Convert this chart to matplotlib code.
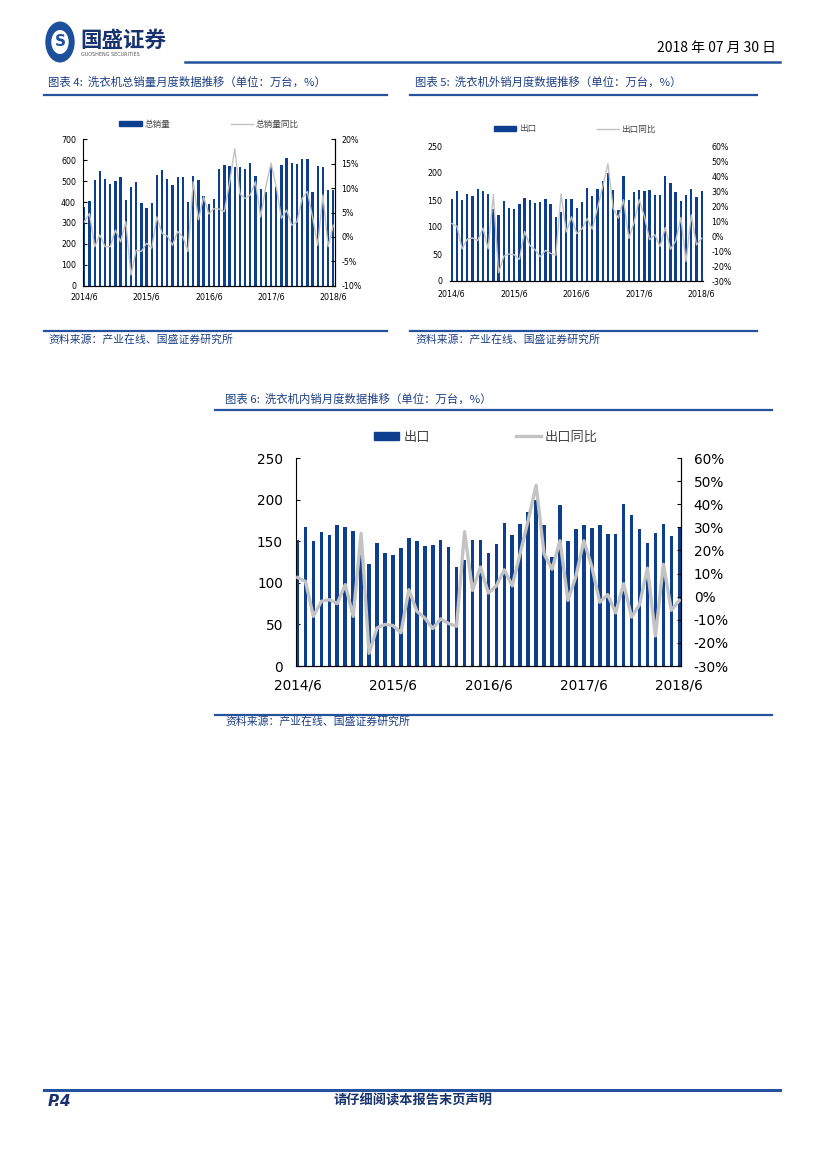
import matplotlib
matplotlib.use("Agg")
import matplotlib.pyplot as plt
from matplotlib.patches import Circle, Patch
from matplotlib.lines import Line2D

# month labels, 2014/6 .. 2018/6 (49 months)
tick_pos = [0, 12, 24, 36, 48]
tick_labels = ["2014/6", "2015/6", "2016/6", "2017/6", "2018/6"]

# chart 4: total sales (10k units) and yoy (%)
total_sales = [376, 405, 505, 549, 509, 486, 501, 518, 410, 470, 496, 396, 372,
               396, 528, 553, 510, 480, 518, 518, 400, 525, 505, 430, 390, 415,
               558, 577, 573, 568, 566, 560, 585, 525, 460, 450, 580, 470, 577,
               609, 585, 580, 604, 607, 448, 574, 569, 458, 458]
total_yoy = [3.1, 4.8, -2.0, 0.4, -2.0, -2.0, 1.4, -1.0, 3.1, -7.8, -2.7, -3.0, -1.3,
             -2.3, 4.1, 0.7, 0.2, -1.7, 1.1, 0.0, -3.0, 11.3, 3.5, 8.2, 4.7, 5.8,
             5.7, 5.2, 11.1, 18.1, 8.8, 7.9, 8.6, 11.3, 4.1, 10.3, 15.1, 10.3, 3.8,
             5.5, 2.4, 3.1, 7.9, 9.3, 4.1, -1.7, 8.6, -2.0, 2.4]

# chart 5 / 6: export (10k units) and yoy (%)
export = [152, 167, 150, 161, 157, 170, 167, 162, 133, 122, 148, 136, 133,
          142, 154, 150, 144, 146, 152, 143, 119, 128, 152, 152, 136, 147,
          172, 157, 171, 185, 200, 169, 131, 194, 150, 165, 169, 166, 169,
          159, 159, 195, 182, 165, 148, 160, 171, 156, 166]
export_yoy = [8.3, 6.6, -8.5, -2.0, -1.3, -3.0, 5.2, -8.5, 27.4, -24.5, -13.5, -12.0, -12.5,
              -15.6, 3.0, -6.3, -9.2, -13.8, -9.6, -11.6, -12.8, 28.1, 2.7, 12.8, 1.6, 4.7,
              11.6, 4.7, 18.8, 33.0, 48.2, 18.5, 11.9, 24.2, -1.6, 8.8, 24.2, 13.0, -2.4,
              0.9, -7.0, 5.6, -8.8, -3.4, 12.3, -17.0, 14.0, -5.9, -1.6]

W, H = 827, 1169
BAR = "#0e3f8e"
LINE = "#c3c3c3"
BLUE_TXT = "#1d3f84"
RULE = "#25529c"
CJK = ["Noto Sans CJK SC", "DejaVu Sans"]

fig = plt.figure(figsize=(W / 100, H / 100), dpi=100)
fig.patch.set_facecolor("white")


def fx(x):
    return x / W


def fy(y):
    return 1 - y / H


def rule(x0, x1, y, lw=1.6, color=RULE):
    fig.add_artist(Line2D([fx(x0), fx(x1)], [fy(y), fy(y)], color=color, lw=lw,
                          transform=fig.transFigure))


def combo(first_c, last_c, top, bottom, bars, yoy, lmax, lstep, rmin, rmax, rstep,
          fs, lw, pad, names, leg_xy, leg_fs, hl, cs, spines_on=True, width=0.45):
    n = len(bars)
    step = (last_c - first_c) / (n - 1)
    left = first_c - 0.25 * step
    right = last_c + 0.25 * step
    ax = fig.add_axes([fx(left), fy(bottom), fx(right - left), (bottom - top) / H])
    x = list(range(n))
    ax.bar(x, bars, width=width, color=BAR, zorder=2)
    ax.set_xlim(-0.25, n - 0.75)
    ax.set_ylim(0, lmax)
    ax.set_yticks(range(0, lmax + 1, lstep))
    ax.set_xticks(tick_pos)
    ax.set_xticklabels(tick_labels)
    ax.tick_params(axis="both", direction="in", length=3, width=0.8, labelsize=fs, pad=pad,
                   colors="black")
    ax2 = ax.twinx()
    ax2.plot(x, yoy, color=LINE, lw=lw, zorder=3, solid_joinstyle="round")
    ax2.set_ylim(rmin, rmax)
    ax2.set_yticks(range(rmin, rmax + 1, rstep))
    ax2.set_yticklabels([f"{v}%" for v in range(rmin, rmax + 1, rstep)])
    ax2.tick_params(axis="y", direction="in", length=3, width=0.8, labelsize=fs, pad=pad)
    for a in (ax, ax2):
        a.spines["top"].set_visible(False)
        a.set_facecolor("none")
    if not spines_on:
        for a in (ax, ax2):
            a.spines["left"].set_visible(False)
            a.spines["right"].set_visible(False)
            a.tick_params(axis="y", length=0)
    else:
        ax2.spines["left"].set_visible(False)
    handles = [Patch(color=BAR), Line2D([], [], color=LINE, lw=lw)]
    fig.legend(handles, names, loc="center", bbox_to_anchor=(fx(leg_xy[0]), fy(leg_xy[1])),
               ncol=2, frameon=False, prop={"family": CJK, "size": leg_fs},
               handlelength=hl, handleheight=0.6, handletextpad=0.3, columnspacing=cs,
               labelcolor="#444444")
    return ax, ax2


# header
fig.add_artist(Circle((fx(60), fy(42)), 14 / W, transform=fig.transFigure,
                      color="#1c4f9c", zorder=5))
fig.add_artist(Circle((fx(60), fy(42)), 8 / W, transform=fig.transFigure,
                      color="white", zorder=6))
fig.text(fx(60), fy(42), "S", color="#1c4f9c", fontsize=11, fontweight="bold",
         ha="center", va="center", zorder=7)
fig.text(fx(80), fy(40), "国盛证券", family=CJK, fontsize=15.5, fontweight="bold",
         color="#17326d", va="center")
fig.text(fx(81), fy(54), "GUOSHENG SECURITIES", fontsize=3.5, color="#555555", va="center")
fig.text(fx(776), fy(48), "2018 年 07 月 30 日", family=CJK, fontsize=10, ha="right",
         va="center", color="black")
rule(185, 780, 62, lw=1.8)

# chart 4
fig.text(fx(48), fy(82), "图表 4:  洗衣机总销量月度数据推移（单位：万台，%）", family=CJK,
         fontsize=8.2, color=BLUE_TXT, va="center", style="italic")
rule(44, 387, 95)
combo(84.3, 333.3, 139.3, 285.7, total_sales, total_yoy, 700, 100, -10, 20, 5,
      5.7, 1.0, 5, ["总销量", "总销量同比"], (209, 124), 6.2, 2.6, 7)
rule(44, 387, 331)
fig.text(fx(48), fy(339), "资料来源：产业在线、国盛证券研究所", family=CJK, fontsize=7.8,
         color=BLUE_TXT, va="center", style="italic")

# chart 5
fig.text(fx(415), fy(82), "图表 5:  洗衣机外销月度数据推移（单位：万台，%）", family=CJK,
         fontsize=8.2, color=BLUE_TXT, va="center", style="italic")
rule(410, 757, 95)
combo(451.7, 701.7, 146, 281, export, export_yoy, 250, 50, -30, 60, 10,
      5.7, 1.0, 6, ["出口", "出口同比"], (575, 129), 6.2, 2.6, 7, spines_on=False)
rule(410, 757, 331)
fig.text(fx(415), fy(339), "资料来源：产业在线、国盛证券研究所", family=CJK, fontsize=7.8,
         color=BLUE_TXT, va="center", style="italic")

# chart 6
fig.text(fx(225), fy(399), "图表 6:  洗衣机内销月度数据推移（单位：万台，%）", family=CJK,
         fontsize=8.2, color=BLUE_TXT, va="center", style="italic")
rule(215, 772, 410)
combo(297.5, 679.3, 458, 666, export, export_yoy, 250, 50, -30, 60, 10,
      9.8, 2.4, 9, ["出口", "出口同比"], (486, 437), 9.5, 1.9, 6.5)
rule(215, 772, 715)
fig.text(fx(225), fy(722), "资料来源：产业在线、国盛证券研究所", family=CJK, fontsize=7.8,
         color=BLUE_TXT, va="center", style="italic")

# footer
rule(44, 780, 1090, lw=2.2)
fig.text(fx(48), fy(1101), "P.4", fontsize=11, fontweight="bold", style="italic",
         color="#17326d", va="center")
fig.text(fx(413), fy(1101), "请仔细阅读本报告末页声明", family=CJK, fontsize=9.5,
         fontweight="bold", color="#17326d", va="center", ha="center")

fig.savefig("out.png", dpi=100)
